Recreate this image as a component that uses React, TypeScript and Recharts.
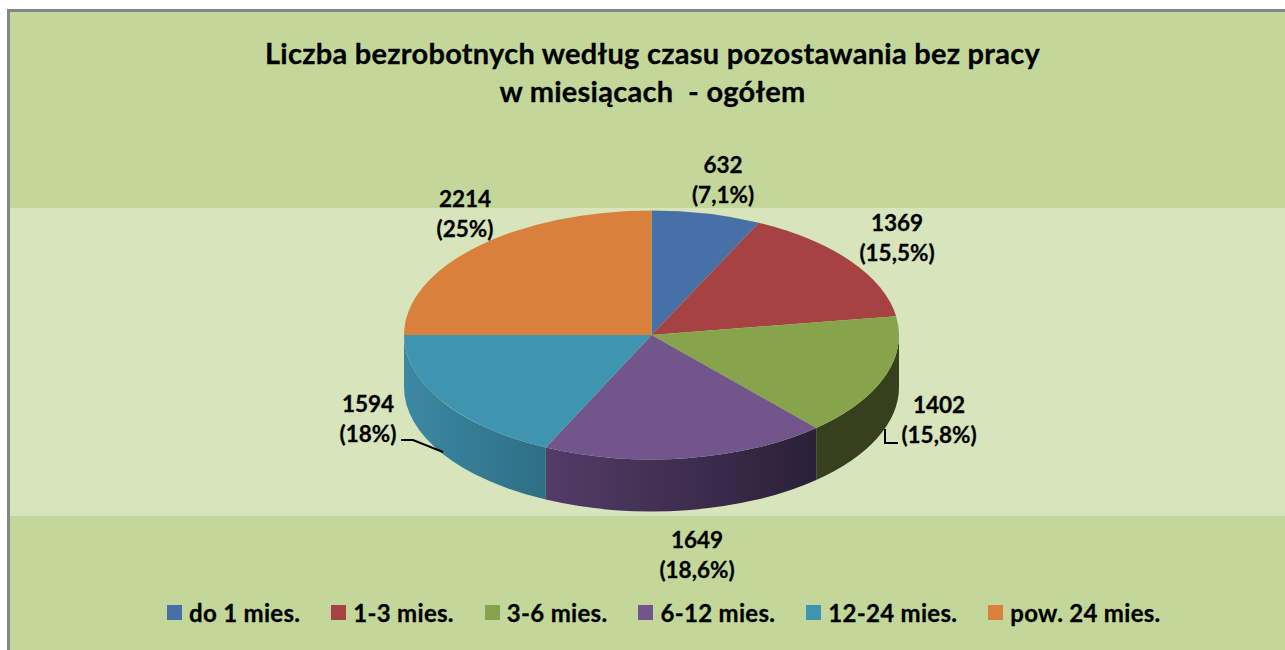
import React from 'react';
import { PieChart, Pie, Legend } from 'recharts';

const categories = ['do 1 mies.', '1-3 mies.', '3-6 mies.', '6-12 mies.', '12-24 mies.', 'pow. 24 mies.'];
const counts = [632, 1369, 1402, 1649, 1594, 2214];
const shares = ['(7,1%)', '(15,5%)', '(15,8%)', '(18,6%)', '(18%)', '(25%)'];
const topColors = ['#4670a6', '#a64342', '#87a34c', '#72558b', '#3f95af', '#d8803c'];
const wallLeft = ['#34527a', '#7a3130', '#37401c', '#533c68', '#3c88a3', '#9e5d2b'];
const wallRight = ['#34527a', '#7a3130', '#37401c', '#2a2038', '#2d6f85', '#9e5d2b'];
const titleLines = ['Liczba bezrobotnych według czasu pozostawania bez pracy', 'w miesiącach  - ogółem'];

const data = categories.map((name, i) => ({ name, value: counts[i] }));

const FONT = 'Lato, "Open Sans", sans-serif';
const SQUASH = 124.5 / 247.5;
const DEPTH = 52;

// label anchor points: [x, first line baseline]
const labelSpots = [
  [723, 173],
  [897, 231],
  [939, 413],
  [697, 548],
  [368, 412],
  [465, 207],
];

const leaders: Record<number, string> = {
  2: 'M885 429 V443 H898',
  4: 'M401 440 H413 L443 452',
};

const RAD = Math.PI / 180;

const SliceShape = (props: any) => {
  const { cx, cy, outerRadius, startAngle, endAngle, index } = props;
  const rx = outerRadius;
  const ry = outerRadius * SQUASH;
  const px = (a: number) => cx + rx * Math.cos(a * RAD);
  const py = (a: number) => cy - ry * Math.sin(a * RAD);
  const large = Math.abs(startAngle - endAngle) > 180 ? 1 : 0;
  const top = `M${cx} ${cy} L${px(startAngle)} ${py(startAngle)} A${rx} ${ry} 0 ${large} 1 ${px(endAngle)} ${py(endAngle)} Z`;

  // only the front half of the rim is visible
  const a1 = Math.min(startAngle, 0);
  const a2 = Math.max(endAngle, -180);
  let wall = null;
  if (a1 > a2) {
    const d = `M${px(a1)} ${py(a1)} A${rx} ${ry} 0 0 1 ${px(a2)} ${py(a2)} L${px(a2)} ${py(a2) + DEPTH} A${rx} ${ry} 0 0 0 ${px(a1)} ${py(a1) + DEPTH} Z`;
    const gid = `wall-${index}`;
    wall = (
      <>
        <defs>
          <linearGradient id={gid} gradientUnits="userSpaceOnUse" x1={Math.min(px(a1), px(a2))} x2={Math.max(px(a1), px(a2))} y1={0} y2={0}>
            <stop offset="0%" stopColor={wallLeft[index]} />
            <stop offset="100%" stopColor={wallRight[index]} />
          </linearGradient>
        </defs>
        <path d={d} fill={`url(#${gid})`} />
      </>
    );
  }
  return (
    <g>
      {wall}
      <path d={top} fill={topColors[index]} />
    </g>
  );
};

const renderLabel = (props: any) => {
  const { index } = props;
  const [x, y] = labelSpots[index];
  const textProps = { x, textAnchor: 'middle' as const, fontFamily: FONT, fontWeight: 700, fontSize: 22.5, fill: '#000', stroke: '#000', strokeWidth: 0.3 };
  return (
    <g key={index}>
      {leaders[index] && <path d={leaders[index]} fill="none" stroke="#000" strokeWidth={2} />}
      <text {...textProps} y={y}>
        {counts[index]}
      </text>
      <text {...textProps} y={y + 30}>
        {shares[index]}
      </text>
    </g>
  );
};

const renderLegend = () => (
  <div style={{ display: 'flex', paddingLeft: 167, fontFamily: FONT, fontWeight: 700, fontSize: 24, letterSpacing: 0.3, WebkitTextStroke: '0.3px #000', color: '#000', whiteSpace: 'nowrap' }}>
    {categories.map((c, i) => (
      <div key={c} style={{ display: 'flex', alignItems: 'center', marginRight: 31 }}>
        <span style={{ width: 15, height: 15, background: topColors[i], marginRight: 7 }} />
        <span>{c}</span>
      </div>
    ))}
  </div>
);

export default function App() {
  return (
    <div style={{ position: 'absolute', left: 0, top: 0, width: 1285, height: 650, overflow: 'hidden', background: '#fff' }}>
      <div style={{ position: 'absolute', left: 7, top: 9, right: 0, bottom: 0, background: '#c4d79b', borderLeft: '3px solid #868686', borderTop: '3px solid #868686' }} />
      <div style={{ position: 'absolute', left: 10, right: 0, top: 208, height: 308, background: '#d8e4bc' }} />
      {titleLines.map((line, i) => (
        <div
          key={i}
          style={{ position: 'absolute', left: 0, width: 1305, top: 35 + i * 38, textAlign: 'center', fontFamily: FONT, fontWeight: 700, fontSize: 29, letterSpacing: 0.27, WebkitTextStroke: '0.3px #000', lineHeight: '36px', color: '#000', whiteSpace: 'pre' }}
        >
          {line}
        </div>
      ))}
      <div style={{ position: 'absolute', left: 0, top: 0 }}>
        <PieChart width={1285} height={650} margin={{ top: 0, right: 0, bottom: 0, left: 0 }}>
          <Pie
            data={data}
            dataKey="value"
            nameKey="name"
            cx={651.5}
            cy={335}
            outerRadius={247.5}
            startAngle={90}
            endAngle={-270}
            stroke="none"
            shape={SliceShape}
            label={renderLabel}
            labelLine={false}
            isAnimationActive={false}
          />
          <Legend content={renderLegend} wrapperStyle={{ left: 0, top: 598, width: 1285 }} />
        </PieChart>
      </div>
    </div>
  );
}
